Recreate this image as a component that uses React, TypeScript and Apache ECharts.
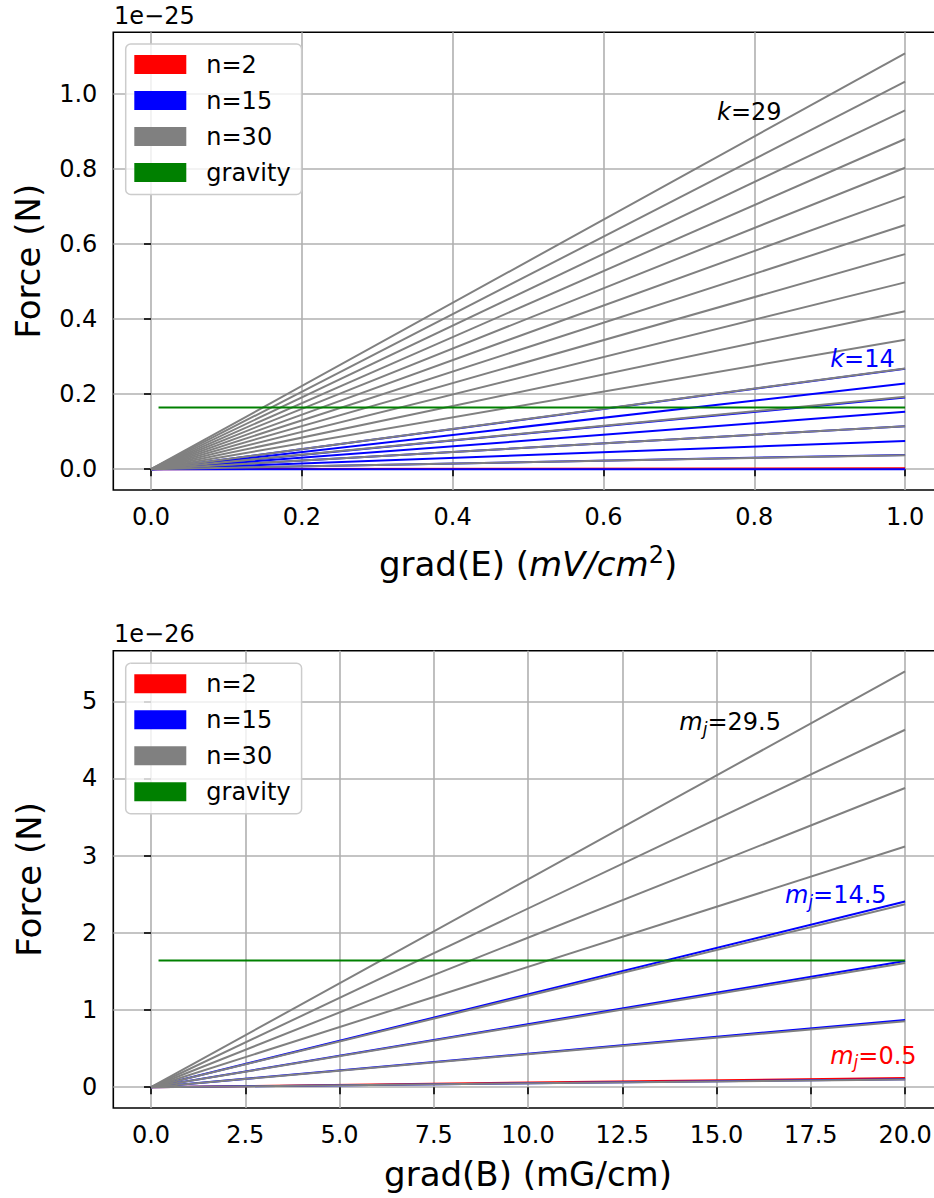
import React, { useEffect, useRef } from "react";
import * as echarts from "echarts";

// ---------- data ----------
// top panel: force (1e-25 N) vs grad(E) (mV/cm^2); every line starts at 0 and ends at x = 1.0
const topX = [0, 1];
const topGravityX = [0.01, 1];
const topRedEnds = [0.0025];
const topBlueEnds = [0.2676, 0.2285, 0.191, 0.153, 0.1147, 0.0755, 0.0382, 0];
const topGrayEnds = [
  1.1085, 1.033, 0.9565, 0.88, 0.8035, 0.727, 0.6507, 0.5733, 0.498, 0.421, 0.345,
  0.2685, 0.193, 0.1147, 0.0373,
];
const topGravity = 0.1645;

// bottom panel: force (1e-26 N) vs grad(B) (mG/cm); lines end at x = 20
const botX = [0, 20];
const botGravityX = [0.2, 20];
const botRedEnds = [0.12];
const botBlueEnds = [2.406, 1.634, 0.871, 0.105];
const botGrayEnds = [5.386, 4.631, 3.876, 3.118, 2.37, 1.61, 0.855, 0.1];
const botGravity = 1.643;

// ticks
const topXTicks = [0, 0.2, 0.4, 0.6, 0.8, 1.0];
const topYTicks = [0, 0.2, 0.4, 0.6, 0.8, 1.0];
const botXTicks = [0, 2.5, 5, 7.5, 10, 12.5, 15, 17.5, 20];
const botYTicks = [0, 1, 2, 3, 4, 5];

// legend
const legendNames = ["n=2", "n=15", "n=30", "gravity"];
const legendColors = ["#ff0000", "#0000ff", "#808080", "#008000"];

// annotations
const topNotes = [
  { x: 0.75, y: 0.952, sym: "k", value: "29", color: "#000000" },
  { x: 0.9, y: 0.294, sym: "k", value: "14", color: "#0000ff" },
];
const botNotes = [
  { x: 14.0, y: 4.726, sym: "m", value: "29.5", color: "#000000" },
  { x: 16.8, y: 2.49, sym: "m", value: "14.5", color: "#0000ff" },
  { x: 18.0, y: 0.405, sym: "m", value: "0.5", color: "#ff0000" },
];

const FONT = "DejaVu Sans";

function lineSeries(name: string, color: string, xs: number[], v0: number, v1: number, idx: number) {
  return {
    type: "line",
    name,
    xAxisIndex: idx,
    yAxisIndex: idx,
    data: [
      [xs[0], v0],
      [xs[1], v1],
    ],
    symbol: "none",
    silent: true,
    color,
    lineStyle: { color, width: 2 },
    itemStyle: { color },
    clip: true,
  };
}

function panelSeries(
  idx: number,
  xs: number[],
  gxs: number[],
  red: number[],
  blue: number[],
  gray: number[],
  gravity: number
) {
  const s: any[] = [];
  red.forEach((v) => s.push(lineSeries("n=2", legendColors[0], xs, 0, v, idx)));
  blue.forEach((v) => s.push(lineSeries("n=15", legendColors[1], xs, 0, v, idx)));
  gray.forEach((v) => s.push(lineSeries("n=30", legendColors[2], xs, 0, v, idx)));
  s.push(lineSeries("gravity", legendColors[3], gxs, gravity, gravity, idx));
  return s;
}

function noteSeries(idx: number, notes: any[]) {
  return notes.map((n) => ({
    type: "scatter",
    xAxisIndex: idx,
    yAxisIndex: idx,
    silent: true,
    symbolSize: 1,
    z: 5,
    itemStyle: { color: "rgba(0,0,0,0)" },
    data: [[n.x, n.y]],
    label: {
      show: true,
      position: "right",
      distance: 0,
      color: n.color,
      opacity: 1,
      textBorderWidth: 0,
      formatter:
        n.sym === "k" ? `{i|k}{n|=${n.value}}` : `{i|m}{s|j}{n|=${n.value}}`,
      rich: {
        i: { fontFamily: FONT, fontStyle: "italic", fontSize: 24, color: n.color, textBorderWidth: 0 },
        n: { fontFamily: FONT, fontSize: 24, color: n.color, textBorderWidth: 0 },
        s: {
          fontFamily: FONT,
          fontStyle: "italic",
          fontSize: 17,
          color: n.color,
          textBorderWidth: 0,
          padding: [13, 0, 0, 0],
        },
      },
    },
  }));
}

function legendFor(top: number) {
  return {
    orient: "vertical",
    left: 125.7,
    top,
    padding: [8.5, 11, 10, 8.6],
    itemWidth: 52,
    itemHeight: 19,
    itemGap: 12,
    backgroundColor: "rgba(255,255,255,0.8)",
    borderColor: "#cccccc",
    borderWidth: 1.5,
    borderRadius: 5,
    selectedMode: false,
    textStyle: {
      fontFamily: FONT,
      fontSize: 24,
      color: "#000000",
      lineHeight: 19,
      padding: [0, 0, 0, 15],
    },
    data: legendNames.map((name, i) => ({
      name,
      icon: "rect",
      itemStyle: { color: legendColors[i], borderWidth: 0 },
    })),
  };
}

function axisCommon(ticks: number[], fmt: (v: number) => string, margin: number) {
  return {
    type: "value",
    axisLine: { show: false },
    axisTick: {
      show: true,
      inside: false,
      length: 7,
      customValues: ticks,
      lineStyle: { color: "#000000", width: 1.6 },
    },
    axisLabel: {
      customValues: ticks,
      formatter: (v: number) => fmt(v),
      fontFamily: FONT,
      fontSize: 24,
      color: "#000000",
      margin,
    },
    splitLine: {
      show: true,
      customValues: ticks,
      lineStyle: { color: "#b0b0b0", width: 1.6 },
    },
  };
}

export default function App() {
  const ref = useRef<HTMLDivElement>(null);
  useEffect(() => {
    if (!ref.current) return;
    const chart = echarts.init(ref.current, undefined, { renderer: "svg" });
    const f1 = (v: number) => v.toFixed(1);
    const f0 = (v: number) => String(Math.round(v));
    const gridBase = {
      show: true,
      left: 113.3,
      width: 829.5,
      borderColor: "#000000",
      borderWidth: 1.6,
      backgroundColor: "#ffffff",
      containLabel: false,
    };
    const option: any = {
      animation: false,
      backgroundColor: "#ffffff",
      textStyle: { fontFamily: FONT },
      grid: [
        { ...gridBase, top: 32.3, height: 457.7 },
        { ...gridBase, top: 650.7, height: 457.3 },
      ],
      legend: [legendFor(44), legendFor(663.3)],
      xAxis: [
        {
          ...axisCommon(topXTicks, f1, 15),
          gridIndex: 0,
          min: -0.05,
          max: 1.05,
          name: "grad(E) ({it|mV/cm}{sup|2})",
          nameLocation: "middle",
          nameGap: 54,
          nameTextStyle: {
            fontFamily: FONT,
            fontSize: 34,
            color: "#000000",
            lineHeight: 40,
            rich: {
              it: { fontFamily: FONT, fontStyle: "italic", fontSize: 34, lineHeight: 40, color: "#000" },
              sup: { fontFamily: FONT, fontStyle: "normal", fontSize: 24, lineHeight: 21, padding: [0, 0, 19, 0], color: "#000" },
            },
          },
        },
        {
          ...axisCommon(botXTicks, f1, 15),
          gridIndex: 1,
          min: -1,
          max: 21,
          name: "grad(B) (mG/cm)",
          nameLocation: "middle",
          nameGap: 46,
          nameTextStyle: { fontFamily: FONT, fontSize: 34, color: "#000000", lineHeight: 40 },
        },
      ],
      yAxis: [
        {
          ...axisCommon(topYTicks, f1, 16),
          gridIndex: 0,
          min: -0.0554,
          max: 1.1644,
          name: "Force (N)",
          nameLocation: "middle",
          nameRotate: 90,
          nameGap: 64,
          nameTextStyle: { fontFamily: FONT, fontSize: 34, color: "#000000", lineHeight: 40 },
        },
        {
          ...axisCommon(botYTicks, f0, 16),
          gridIndex: 1,
          min: -0.269,
          max: 5.655,
          name: "Force (N)",
          nameLocation: "middle",
          nameRotate: 90,
          nameGap: 64,
          nameTextStyle: { fontFamily: FONT, fontSize: 34, color: "#000000", lineHeight: 40 },
        },
      ],
      graphic: [
        {
          type: "text",
          left: 114,
          top: 4,
          style: { text: "1e\u221225", fontFamily: FONT, fontSize: 24, fill: "#000000" },
        },
        {
          type: "text",
          left: 114,
          top: 622,
          style: { text: "1e\u221226", fontFamily: FONT, fontSize: 24, fill: "#000000" },
        },
      ],
      series: [
        ...panelSeries(0, topX, topGravityX, topRedEnds, topBlueEnds, topGrayEnds, topGravity),
        ...noteSeries(0, topNotes),
        ...panelSeries(1, botX, botGravityX, botRedEnds, botBlueEnds, botGrayEnds, botGravity),
        ...noteSeries(1, botNotes),
      ],
    };
    chart.setOption(option);
    return () => chart.dispose();
  }, []);
  return (
    <div
      style={{ position: "absolute", left: 0, top: 0, width: 934, height: 1198, overflow: "hidden", background: "#fff" }}
    >
      <div ref={ref} style={{ position: "absolute", left: 0, top: 0, width: 960, height: 1198 }} />
    </div>
  );
}
